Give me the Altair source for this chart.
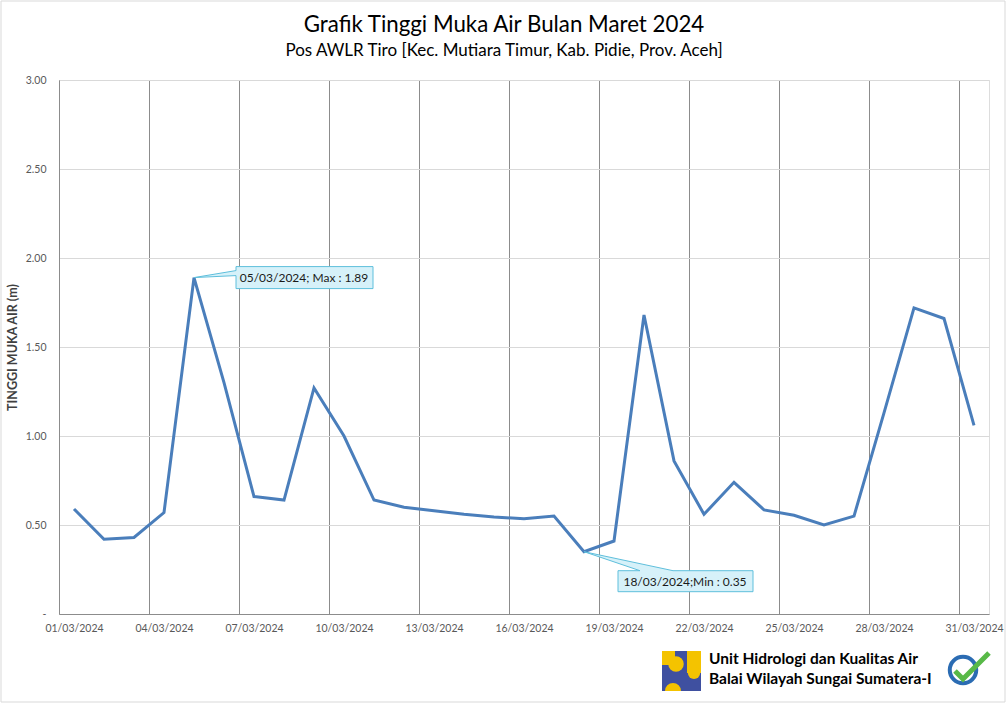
import altair as alt
import pandas as pd

# ---------------- data ----------------
dates = ["01/03/2024", "02/03/2024", "03/03/2024", "04/03/2024", "05/03/2024",
         "06/03/2024", "07/03/2024", "08/03/2024", "09/03/2024", "10/03/2024",
         "11/03/2024", "12/03/2024", "13/03/2024", "14/03/2024", "15/03/2024",
         "16/03/2024", "17/03/2024", "18/03/2024", "19/03/2024", "20/03/2024",
         "21/03/2024", "22/03/2024", "23/03/2024", "24/03/2024", "25/03/2024",
         "26/03/2024", "27/03/2024", "28/03/2024", "29/03/2024", "30/03/2024",
         "31/03/2024"]
levels = [0.59, 0.42, 0.43, 0.57, 1.89, 1.30, 0.66, 0.64, 1.27, 1.00,
          0.64, 0.60, 0.58, 0.56, 0.545, 0.535, 0.55, 0.35, 0.41, 1.68,
          0.86, 0.56, 0.74, 0.585, 0.555, 0.50, 0.55, 1.13, 1.72, 1.66,
          1.06]
tick_days = [1, 4, 7, 10, 13, 16, 19, 22, 25, 28, 31]
y_ticks = [0, 0.5, 1.0, 1.5, 2.0, 2.5, 3.0]

max_label = "05/03/2024; Max : 1.89"
min_label = "18/03/2024;Min :  0.35"

title_text = "Grafik Tinggi Muka Air Bulan Maret 2024"
subtitle_text = "Pos AWLR Tiro [Kec. Mutiara Timur, Kab. Pidie, Prov. Aceh]"
y_title = "TINGGI MUKA AIR (m)"
org_line1 = "Unit Hidrologi dan Kualitas Air"
org_line2 = "Balai Wilayah Sungai Sumatera-I"


def iso(d):
    dd, mm, yy = d.split("/")
    return f"{yy}-{mm}-{dd}T00:00:00"


df = pd.DataFrame({"date": [iso(d) for d in dates], "level": levels})
max_df = df.iloc[[levels.index(max(levels))]].assign(label=max_label)
min_df = df.iloc[[levels.index(min(levels))]].assign(label=min_label)
one = pd.DataFrame({"k": [0]})

FONT = "Lato"
LINE_BLUE = "#4a7ebb"

x_scale = alt.Scale(domain=[alt.DateTime(year=2024, month=2, date=29, hours=12),
                            alt.DateTime(year=2024, month=3, date=31, hours=12)])
y_scale = alt.Scale(domain=[0, 3], nice=False, zero=True)

x_axis = alt.Axis(
    values=[alt.DateTime(year=2024, month=3, date=d) for d in tick_days],
    format="%d/%m/%Y", title=None, grid=True, gridColor="#8c8c8c", gridWidth=1,
    ticks=False, tickOffset=-15, labelOffset=15, domainColor="#8c8c8c",
    labelColor="#595959", labelFont=FONT, labelFontSize=10.5, labelPadding=9,
)
y_axis = alt.Axis(
    values=y_ticks, labelExpr="datum.value == 0 ? '-' : format(datum.value, '.2f')",
    title=y_title, titleFont=FONT, titleFontSize=12.5, titleFontWeight="bold",
    titleColor="#404040", titleX=-47, titleY=267, titleAngle=270,
    titleBaseline="middle", titleAlign="center",
    grid=True, gridColor="#d9d9d9", ticks=False, domainColor="#8c8c8c",
    labelColor="#595959", labelFont=FONT, labelFontSize=10.5, labelPadding=13,
)

base_x = alt.X("date:T", scale=x_scale, axis=x_axis)
base_y = alt.Y("level:Q", scale=y_scale, axis=y_axis)

# frame around the whole picture (no fill so the axes stay visible)
frame = alt.Chart(one).mark_rect(fillOpacity=0, stroke="#d9d9d9", strokeWidth=1).encode(
    x=alt.value(-58), x2=alt.value(946), y=alt.value(-79), y2=alt.value(622))

# chart titles as text marks
title_mark = alt.Chart(one).mark_text(font=FONT, fontSize=22.3, color="#000000",
                                      align="center", baseline="middle").encode(
    x=alt.value(445), y=alt.value(-55), text=alt.value(title_text))
subtitle_mark = alt.Chart(one).mark_text(font=FONT, fontSize=17, color="#000000",
                                         align="center", baseline="middle").encode(
    x=alt.value(445), y=alt.value(-29), text=alt.value(subtitle_text))

line = alt.Chart(df).mark_line(color=LINE_BLUE, strokeWidth=3).encode(x=base_x, y=base_y)

max_shape = "M0,0L42,-7L42,-11L179,-11L179,11L42,11L42,-2Z"
min_shape = "M0,0L56,19L34,19L34,40L169,40L169,19L89,19Z"

max_box = alt.Chart(max_df).mark_point(
    shape=max_shape, size=4, filled=True, fill="#d6f1f9", stroke="#5fbfdc",
    strokeWidth=1, opacity=1).encode(x="date:T", y="level:Q")
max_txt = alt.Chart(max_df).mark_text(
    dx=110, dy=0, font=FONT, fontSize=12, color="#1a1a1a", align="center",
    baseline="middle").encode(x="date:T", y="level:Q", text="label:N")
min_box = alt.Chart(min_df).mark_point(
    shape=min_shape, size=4, filled=True, fill="#d6f1f9", stroke="#5fbfdc",
    strokeWidth=1, opacity=1).encode(x="date:T", y="level:Q")
min_txt = alt.Chart(min_df).mark_text(
    dx=101, dy=30, font=FONT, fontSize=12, color="#1a1a1a", align="center",
    baseline="middle").encode(x="date:T", y="level:Q", text="label:N")

# logo (approximation of the PU emblem)
YEL = "#f4c300"
logo_bg = alt.Chart(one).mark_rect(fill="#3f50a0").encode(
    x=alt.value(603), x2=alt.value(642), y=alt.value(571), y2=alt.value(611))
logo_a = alt.Chart(one).mark_rect(fill=YEL).encode(
    x=alt.value(603), x2=alt.value(616), y=alt.value(571), y2=alt.value(585))
logo_b = alt.Chart(one).mark_point(shape="circle", size=240, filled=True, fill=YEL, opacity=1).encode(
    x=alt.value(617), y=alt.value(584))
logo_c = alt.Chart(one).mark_rect(fill=YEL).encode(
    x=alt.value(628), x2=alt.value(642), y=alt.value(571), y2=alt.value(593))
logo_d = alt.Chart(one).mark_point(shape="circle", size=150, filled=True, fill=YEL, opacity=1).encode(
    x=alt.value(635), y=alt.value(593))
logo_e = alt.Chart(one).mark_arc(fill=YEL, radius=8, theta=4.712, theta2=7.854).encode(
    x=alt.value(614), y=alt.value(611))

org1 = alt.Chart(one).mark_text(font=FONT, fontSize=15.5, fontWeight="bold", color="#000000",
                                align="left", baseline="middle").encode(
    x=alt.value(650), y=alt.value(579), text=alt.value(org_line1))
org2 = alt.Chart(one).mark_text(font=FONT, fontSize=15.5, fontWeight="bold", color="#000000",
                                align="left", baseline="middle").encode(
    x=alt.value(650), y=alt.value(599), text=alt.value(org_line2))

badge = alt.Chart(one).mark_point(shape="circle", size=700, filled=False, stroke="#2b6cb3",
                                  strokeWidth=4, opacity=1).encode(
    x=alt.value(904), y=alt.value(590))
check = alt.Chart(one).mark_point(shape="M-8,1L0,9L26,-17", size=4, filled=False,
                                  stroke="#58b947", strokeWidth=5, opacity=1).encode(
    x=alt.value(904), y=alt.value(590))

chart = alt.layer(
    frame, title_mark, subtitle_mark, line, max_box, max_txt, min_box, min_txt,
    logo_bg, logo_a, logo_b, logo_c, logo_d, logo_e, org1, org2, badge, check
).properties(
    width=930, height=534, autosize="none",
    padding={"left": 59, "top": 80, "right": 19, "bottom": 93},
).configure_view(stroke=None).configure(background="white")

chart.save("out.html", embed_options={"renderer": "svg", "actions": False})
